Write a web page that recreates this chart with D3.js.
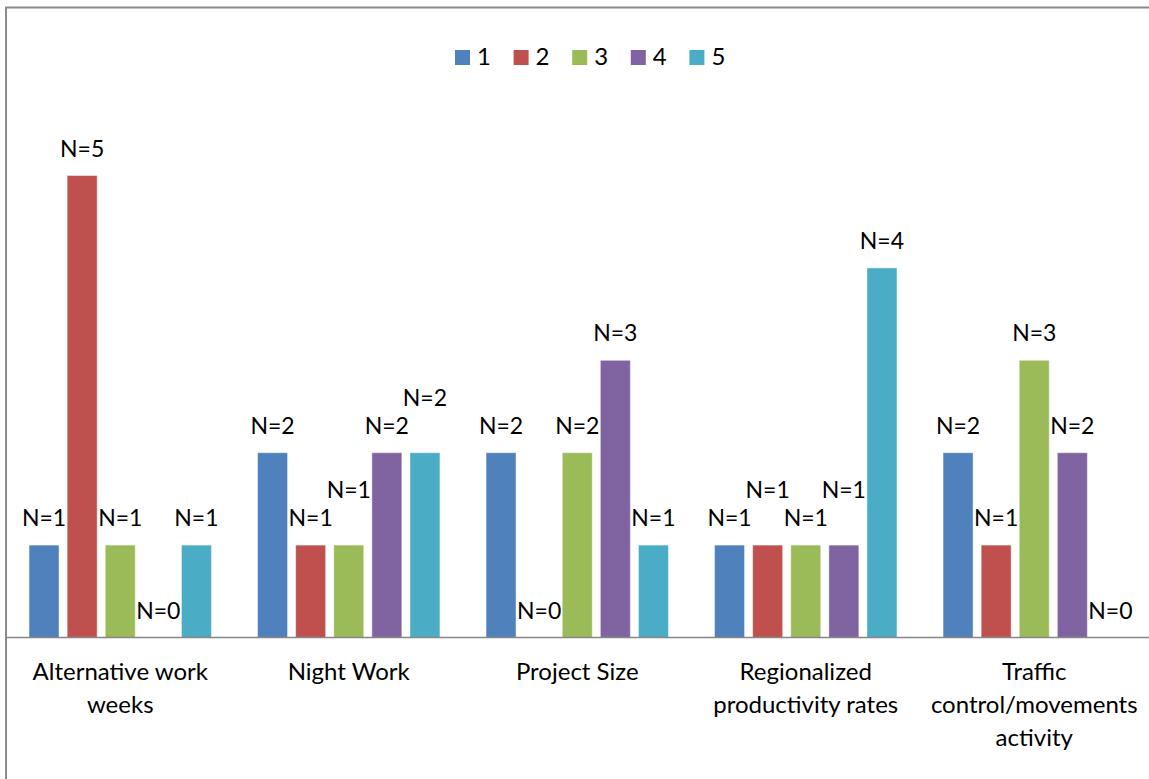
<!DOCTYPE html>
<html>
<head>
<meta charset="utf-8">
<script src="https://cdn.jsdelivr.net/npm/d3@7"></script>
<style>
  html, body { margin: 0; padding: 0; background: #ffffff; }
  svg { display: block; }
  text { font-family: Lato, "Open Sans", sans-serif; fill: #000; }
</style>
</head>
<body>
<svg id="chart" width="1149" height="779"></svg>
<script>
// Categories and series
const categories = [
  "Alternative work weeks",
  "Night Work",
  "Project Size",
  "Regionalized productivity rates",
  "Traffic control/movements activity"
];
const seriesNames = ["1", "2", "3", "4", "5"];
const seriesColors = ["#4F81BD", "#C0504D", "#9BBB59", "#8064A2", "#4BACC6"];

// Counts per category, one array per series
const series1 = [1, 2, 2, 1, 2];
const series2 = [5, 1, 0, 1, 1];
const series3 = [1, 1, 2, 1, 3];
const series4 = [0, 2, 3, 1, 2];
const series5 = [1, 2, 1, 4, 0];
const seriesValues = [series1, series2, series3, series4, series5];

const yTicks = [0, 1, 2, 3, 4, 5, 6];

const W = 1149, H = 779;
const plot = { left: 6, right: 1148.5, top: 83.1, bottom: 637.5 };

const svg = d3.select("#chart");

// Outer chart frame
svg.append("rect")
  .attr("x", 6).attr("y", 7.5)
  .attr("width", W + 20).attr("height", H + 20)
  .attr("fill", "none")
  .attr("stroke", "#8a8a8a")
  .attr("stroke-width", 2);

const x0 = d3.scaleBand().domain(categories).range([plot.left, plot.right]).padding(0);
const x1 = d3.scaleBand().domain(seriesNames).range([0, x0.bandwidth()])
  .paddingInner(0.2126).paddingOuter(0.605);
const y = d3.scaleLinear().domain([d3.min(yTicks), d3.max(yTicks)]).range([plot.bottom, plot.top]);

// Bars
const barData = [];
categories.forEach((c, ci) => {
  seriesNames.forEach((s, si) => {
    barData.push({ cat: c, ser: s, si, value: seriesValues[si][ci] });
  });
});

const gBars = svg.append("g");
gBars.selectAll("rect")
  .data(barData.filter(d => d.value > 0))
  .join("rect")
  .attr("x", d => x0(d.cat) + x1(d.ser))
  .attr("y", d => y(d.value))
  .attr("width", x1.bandwidth())
  .attr("height", d => y(0) - y(d.value))
  .attr("fill", d => seriesColors[d.si])
  .attr("stroke", "rgba(255,255,255,0.45)")
  .attr("stroke-width", 1);

// Category axis line
svg.append("line")
  .attr("x1", 7).attr("x2", W)
  .attr("y1", plot.bottom).attr("y2", plot.bottom)
  .attr("stroke", "#868686")
  .attr("stroke-width", 1.6);

// Data labels, nudged upward when they collide with a neighbour
const labelSize = 23;
const gLabels = svg.append("g");
const shift = 28;
categories.forEach(c => {
  const placed = [];
  barData.filter(d => d.cat === c).forEach(d => {
    const cx = x0(d.cat) + x1(d.ser) + x1.bandwidth() / 2;
    const t = gLabels.append("text")
      .attr("x", cx)
      .attr("text-anchor", "middle")
      .attr("font-size", labelSize)
      .text("N=" + d.value);
    const w = t.node().getComputedTextLength() + 2;
    let base = y(d.value) - 19;
    let moved = true;
    while (moved) {
      moved = false;
      for (const p of placed) {
        if (Math.abs(p.cx - cx) < (p.w + w) / 2 && Math.abs(p.base - base) < shift - 1) {
          base -= shift;
          moved = true;
        }
      }
    }
    placed.push({ cx, w, base });
    t.attr("y", base);
  });
});

// Category labels, wrapped to the band width
const catSize = 24;
const lineH = 33;
const gCats = svg.append("g");
categories.forEach(c => {
  const cx = x0(c) + x0.bandwidth() / 2;
  const t = gCats.append("text")
    .attr("text-anchor", "middle")
    .attr("font-size", catSize);
  const words = c.split(" ");
  const lines = [];
  let line = [];
  const probe = gCats.append("text").attr("font-size", catSize);
  words.forEach(wd => {
    const trial = line.concat([wd]).join(" ");
    probe.text(trial);
    if (line.length && probe.node().getComputedTextLength() > x0.bandwidth() - 4) {
      lines.push(line.join(" "));
      line = [wd];
    } else {
      line.push(wd);
    }
  });
  lines.push(line.join(" "));
  probe.remove();
  lines.forEach((ln, i) => {
    t.append("tspan").attr("x", cx).attr("y", 680 + i * lineH).text(ln);
  });
});

// Legend
const legendX = d3.scalePoint().domain(seriesNames).range([455, 689.4]);
const gLegend = svg.append("g");
seriesNames.forEach((s, i) => {
  gLegend.append("rect")
    .attr("x", legendX(s)).attr("y", 50)
    .attr("width", 15).attr("height", 15)
    .attr("fill", seriesColors[i]);
  gLegend.append("text")
    .attr("x", legendX(s) + 22).attr("y", 65)
    .attr("font-size", 24)
    .text(s);
});
</script>
</body>
</html>
